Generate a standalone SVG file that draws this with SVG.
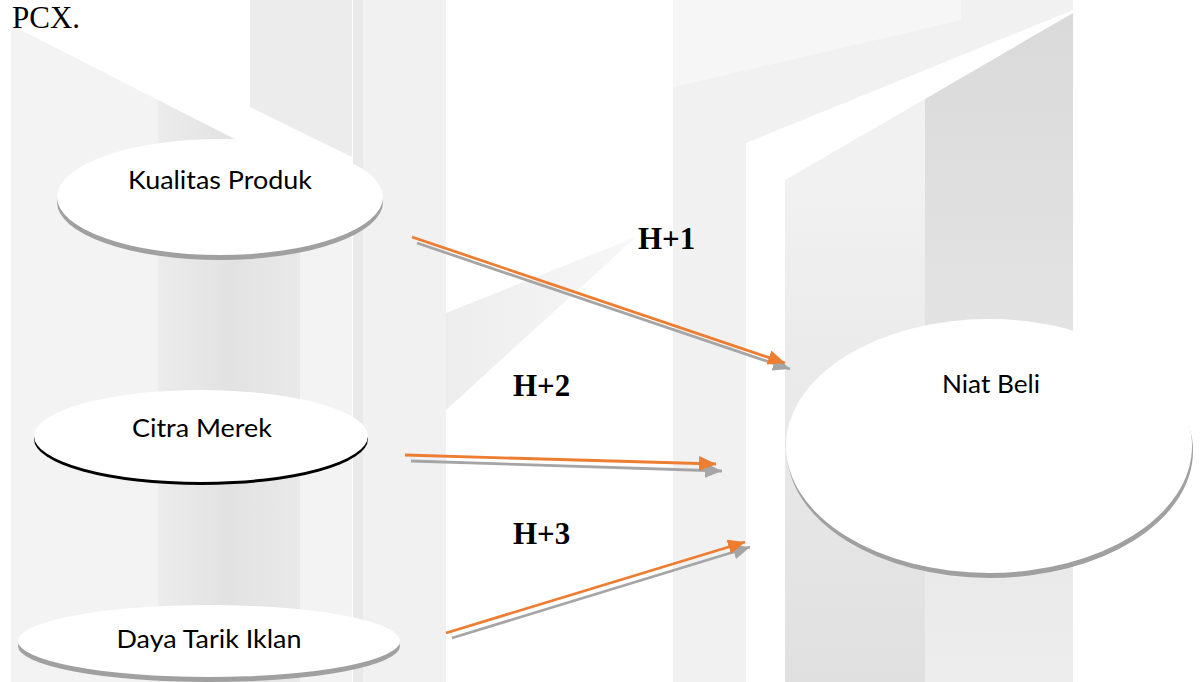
<svg xmlns="http://www.w3.org/2000/svg" width="1201" height="682" viewBox="0 0 1201 682">
  <style>
    .label { font-family: Lato, "Open Sans", "Liberation Sans", sans-serif; font-size: 25px; fill: #000; text-anchor: middle; }
    .hyp { font-family: "Liberation Serif", "Times New Roman", serif; font-size: 31px; font-weight: bold; fill: #000; }
    .cap { font-family: "Liberation Serif", "Times New Roman", serif; font-size: 31px; fill: #000; }
    .node { fill: #ffffff; }
    .shade { fill: #a0a0a0; }
    .shade-dark { fill: #000000; }
    .line-o { stroke: #ED7D31; stroke-width: 2.8; fill: none; }
    .line-g { stroke: #A5A5A5; stroke-width: 2.8; fill: none; }
  </style>
  <defs>
    <marker id="headO" markerUnits="userSpaceOnUse" markerWidth="18" markerHeight="15" refX="17" refY="7.5" orient="auto">
      <path d="M0,0 L17,7.5 L0,15 z" fill="#ED7D31"/>
    </marker>
    <marker id="headG" markerUnits="userSpaceOnUse" markerWidth="18" markerHeight="15" refX="17" refY="7.5" orient="auto">
      <path d="M0,0 L17,7.5 L0,15 z" fill="#A5A5A5"/>
    </marker>
    <linearGradient id="bandL" x1="158" y1="0" x2="300" y2="0" gradientUnits="userSpaceOnUse">
      <stop offset="0" stop-color="#ececec"/>
      <stop offset="0.5" stop-color="#e2e2e2"/>
      <stop offset="1" stop-color="#e9e9e9"/>
    </linearGradient>
    <linearGradient id="innerL" x1="0" y1="180" x2="0" y2="682" gradientUnits="userSpaceOnUse">
      <stop offset="0" stop-color="#f1f1f1"/>
      <stop offset="1" stop-color="#e0e0e0"/>
    </linearGradient>
    <linearGradient id="innerR" x1="0" y1="20" x2="0" y2="682" gradientUnits="userSpaceOnUse">
      <stop offset="0" stop-color="#dadada"/>
      <stop offset="1" stop-color="#ededed"/>
    </linearGradient>
    <linearGradient id="wedge" x1="446" y1="0" x2="636" y2="0" gradientUnits="userSpaceOnUse">
      <stop offset="0" stop-color="#ededed"/>
      <stop offset="1" stop-color="#f7f7f7"/>
    </linearGradient>
  </defs>

  <rect width="1201" height="682" fill="#ffffff"/>

  <!-- faint watermark shapes behind the model -->
  <g id="backdrop">
    <polygon points="11,25 352,199 352,682 11,682" fill="#f3f3f3"/>
    <polygon points="158,100 300,172 300,682 158,682" fill="url(#bandL)"/>
    <polygon points="250,0 352,0 352,157 250,107" fill="#ececec"/>
    <rect x="353" y="0" width="93" height="682" fill="#f1f1f1"/>
    <rect x="353" y="0" width="10" height="682" fill="#e9e9e9"/>
    <polygon points="446,313 636,237 446,410" fill="url(#wedge)"/>
    <polygon points="673,0 961,0 961,20 673,87" fill="#f6f6f6"/>
    <polygon points="673,87 961,20 961,0 1073,0 1073,10 746,143 746,682 673,682" fill="#f1f1f1"/>
    <polygon points="785,180 925,99 925,682 785,682" fill="url(#innerL)"/>
    <polygon points="925,99 1073,13 1073,682 925,682" fill="url(#innerR)"/>
  </g>

  <text class="cap" x="12" y="28">PCX.</text>

  <g id="connectors">
    <line class="line-g" x1="417" y1="243" x2="790" y2="369" marker-end="url(#headG)"/>
    <line class="line-o" x1="412" y1="237" x2="785" y2="363" marker-end="url(#headO)"/>
    <line class="line-g" x1="411" y1="461" x2="722" y2="471" marker-end="url(#headG)"/>
    <line class="line-o" x1="405" y1="455" x2="716" y2="464" marker-end="url(#headO)"/>
    <line class="line-g" x1="452" y1="638" x2="750" y2="547" marker-end="url(#headG)"/>
    <line class="line-o" x1="446" y1="633" x2="745" y2="542" marker-end="url(#headO)"/>
    <text class="hyp" x="638" y="249">H+1</text>
    <text class="hyp" x="513" y="396">H+2</text>
    <text class="hyp" x="513" y="544">H+3</text>
  </g>

  <g id="kualitas-produk">
    <ellipse class="shade" cx="220" cy="202" rx="163" ry="58"/>
    <ellipse class="node" cx="220" cy="197" rx="163" ry="58"/>
    <text class="label" x="220" y="189" textLength="184" lengthAdjust="spacingAndGlyphs">Kualitas Produk</text>
  </g>

  <g id="citra-merek">
    <ellipse class="shade-dark" cx="201" cy="439" rx="167" ry="46"/>
    <ellipse class="node" cx="201" cy="436" rx="167" ry="46"/>
    <text class="label" x="202" y="437" textLength="140" lengthAdjust="spacingAndGlyphs">Citra Merek</text>
  </g>

  <g id="daya-tarik-iklan">
    <ellipse class="shade" cx="209" cy="646" rx="191" ry="36"/>
    <ellipse class="node" cx="209" cy="641" rx="191" ry="36"/>
    <text class="label" x="209" y="648" textLength="185" lengthAdjust="spacingAndGlyphs">Daya Tarik Iklan</text>
  </g>

  <g id="niat-beli">
    <ellipse class="shade" cx="990" cy="451" rx="203" ry="127"/>
    <ellipse class="node" cx="989" cy="446" rx="203" ry="127"/>
    <text class="label" x="991" y="393" textLength="98" lengthAdjust="spacingAndGlyphs">Niat Beli</text>
  </g>
</svg>
